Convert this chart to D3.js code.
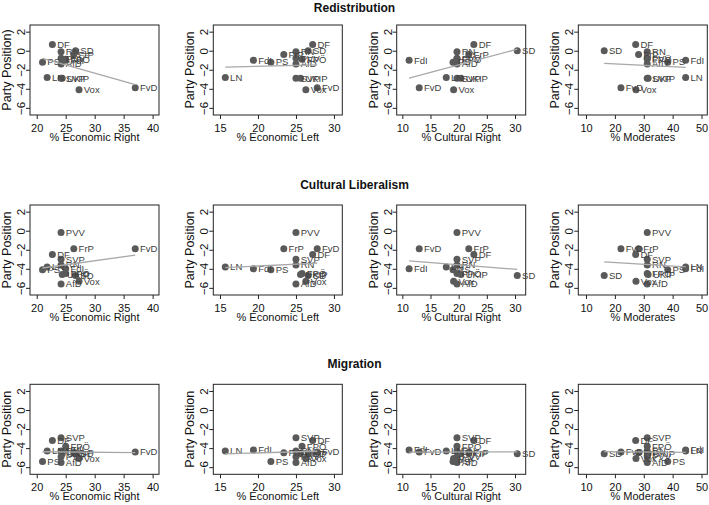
<!DOCTYPE html>
<html>
<head>
<meta charset="utf-8">
<script src="https://cdn.jsdelivr.net/npm/d3@7"></script>
<style>
  body { margin: 0; background: #fff; }
  text { font-family: "Liberation Sans", Arial, sans-serif; }
</style>
</head>
<body>
<svg width="709" height="505"></svg>
<script>
// parties, same order in every array
var parties = ["DF", "SD", "PVV", "FrP", "RN", "FPÖ", "SVP", "UKIP", "AfD", "Vox", "FvD", "FdI", "LN", "PS"];

// share of voters (x)
var econRight     = [22.7, 26.7, 24.2, 26.4, 24.2, 25.0, 24.2, 24.4, 24.2, 27.3, 37.0, 25.0, 21.8, 21.0];
var econLeft      = [27.2, 26.6, 25.0, 23.4, 25.0, 25.8, 25.0, 25.6, 25.0, 26.3, 27.8, 19.4, 15.7, 21.7];
var culturalRight = [22.7, 30.4, 19.7, 21.8, 19.7, 19.7, 19.7, 20.4, 19.7, 19.1, 13.0, 11.2, 17.8, 19.0];
var moderates     = [27.2, 16.3, 31.2, 28.2, 31.2, 31.2, 31.2, 31.5, 31.2, 27.3, 22.1, 44.5, 44.5, 38.3];

// party positions (y)
var redistribution     = [0.65, 0.0, -0.8, -0.4, -0.1, -0.9, -2.9, -2.9, -1.4, -4.1, -3.9, -1.0, -2.8, -1.2];
var culturalLiberalism = [-2.5, -4.7, -0.2, -1.9, -3.6, -4.5, -3.0, -4.6, -5.6, -5.3, -1.9, -4.0, -3.8, -4.1];
var migration          = [-3.2, -4.6, -4.9, -4.5, -4.3, -3.8, -2.9, -4.6, -5.5, -5.1, -4.4, -4.2, -4.3, -5.4];

var topicTitles = ["Redistribution", "Cultural Liberalism", "Migration"];
var topicValues = [redistribution, culturalLiberalism, migration];

var xTitles = ["% Economic Right", "% Economic Left", "% Cultural Right", "% Moderates"];
var xValues = [econRight, econLeft, culturalRight, moderates];
var xTicks = [[20, 25, 30, 35, 40], [15, 20, 25, 30], [10, 15, 20, 25, 30], [10, 20, 30, 40, 50]];
var xDomains = [[18.84, 41.1], [14.12, 31.1], [9.0, 31.9], [7.33, 52.0]];
var yTicks = [-6, -4, -2, 0, 2];
var yDomain = [-6.75, 2.7];

var colLeft = [30, 213.3, 396.7, 578.3];
var rowTop = [25, 205, 384.3];
var titleY = [12, 189, 368];
var boxW = 129, boxH = 90;

var svg = d3.select("svg");

var fitLine = function(xs, ys) {
	var mx = d3.mean(xs), my = d3.mean(ys);
	var sxy = d3.sum(xs, function(x, i) { return (x - mx) * (ys[i] - my); });
	var sxx = d3.sum(xs, function(x) { return (x - mx) * (x - mx); });
	var b = sxy / sxx, a = my - b * mx;
	var ext = d3.extent(xs);
	return [[ext[0], a + b * ext[0]], [ext[1], a + b * ext[1]]];
}

topicTitles.forEach(function(title, r) {
	svg.append("text")
		.attr("x", 354.5)
		.attr("y", titleY[r])
		.attr("text-anchor", "middle")
		.attr("font-size", 12)
		.attr("font-weight", "bold")
		.attr("fill", "#111")
		.text(title);

	xTitles.forEach(function(xt, c) {
		var g = svg.append("g")
			.attr("transform", "translate(" + colLeft[c] + "," + rowTop[r] + ")");

		var x = d3.scaleLinear().domain(xDomains[c]).range([0, boxW]);
		var y = d3.scaleLinear().domain(yDomain).range([boxH, 0]);

		var xAxis = g.append("g")
			.attr("transform", "translate(0," + boxH + ")")
			.call(d3.axisBottom(x).tickValues(xTicks[c]).tickSize(4).tickPadding(4.7));
		var yAxis = g.append("g")
			.call(d3.axisLeft(y).tickValues(yTicks).tickSize(4));

		[xAxis, yAxis].forEach(function(ax) {
			ax.select(".domain").remove();
			ax.selectAll("text").attr("font-size", 11).attr("fill", "#111").attr("font-family", null);
			ax.selectAll("line").attr("stroke", "#222");
		});
		yAxis.selectAll("text")
			.attr("x", 0)
			.attr("y", -5)
			.attr("dy", 0)
			.attr("font-size", 11.5)
			.attr("text-anchor", "middle")
			.attr("transform", "rotate(-90)")
			.text(function(d) { return d < 0 ? "\u2212" + Math.abs(d) : d; });

		g.append("rect")
			.attr("width", boxW)
			.attr("height", boxH)
			.attr("fill", "none")
			.attr("stroke", "#222")
			.attr("stroke-width", 1);

		g.append("text")
			.attr("x", boxW / 2)
			.attr("y", boxH + 26)
			.attr("text-anchor", "middle")
			.attr("font-size", 11)
			.attr("fill", "#111")
			.text(xt);

		g.append("text")
			.attr("transform", "translate(-19," + (boxH / 2) + ") rotate(-90)")
			.attr("text-anchor", "middle")
			.attr("font-size", 12.5)
			.attr("fill", "#111")
			.text(r == 0 && c == 0 ? "Party Position)" : "Party Position");

		var xs = xValues[c], ys = topicValues[r];
		var pts = parties.map(function(p, i) { return {name: p, x: xs[i], y: ys[i]}; });

		g.selectAll(".dot")
			.data(pts)
			.enter()
			.append("circle")
			.attr("class", "dot")
			.attr("cx", function(d) { return x(d.x); })
			.attr("cy", function(d) { return y(d.y); })
			.attr("r", 3.5)
			.attr("fill", "#5a5a5a");

		g.selectAll(".lab")
			.data(pts)
			.enter()
			.append("text")
			.attr("class", "lab")
			.attr("x", function(d) { return x(d.x) + 4.8; })
			.attr("y", function(d) { return y(d.y); })
			.attr("dy", "0.35em")
			.attr("font-size", 9.5)
			.attr("fill", "#404040")
			.text(function(d) { return d.name; });

		var fit = fitLine(xs, ys);
		g.append("line")
			.attr("x1", x(fit[0][0]))
			.attr("y1", y(fit[0][1]))
			.attr("x2", x(fit[1][0]))
			.attr("y2", y(fit[1][1]))
			.attr("stroke", "#a8a8a8")
			.attr("stroke-width", 1.3);
	});
});
</script>
</body>
</html>
